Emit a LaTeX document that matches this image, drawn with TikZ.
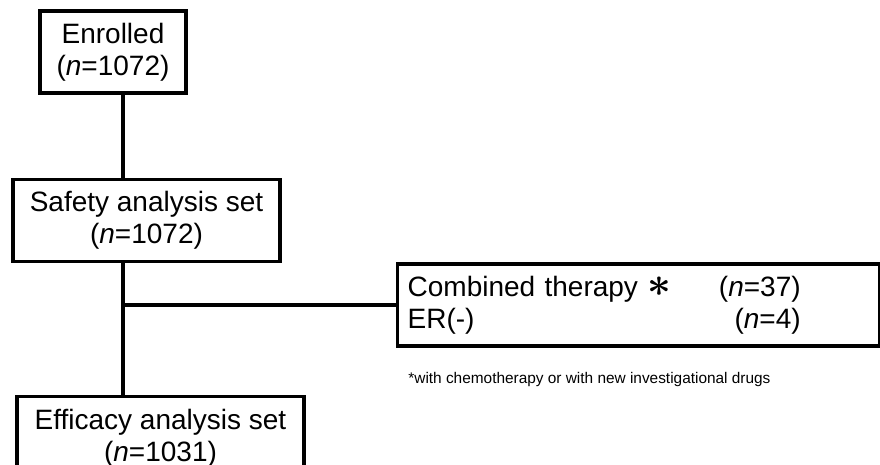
\documentclass[tikz,border=0pt]{standalone}
\usepackage{fontspec}
\setmainfont{Liberation Sans}
\usetikzlibrary{positioning}

\begin{document}
\begin{tikzpicture}[
    x=0.5pt, y=-0.5pt,
    node distance=41.5pt,
    block/.style={draw, line width=1.7pt, minimum height=41pt, inner sep=0pt,
                  align=center, font=\fontsize{14}{16}\selectfont},
    link/.style={line width=1.6pt},
]
    \clip (0,0) rectangle (880,465);

    % Enrolled
    \node[block, minimum width=73pt] (enrolled) at (113,52) {Enrolled\\(\textit{n}=1072)};

    % Safety analysis set
    \node[block, minimum width=133.5pt, below=41.5pt of enrolled, xshift=16.75pt] (safety) {Safety analysis set\\(\textit{n}=1072)};

    % Efficacy analysis set
    \node[block, minimum width=143.5pt, below=66pt of safety, xshift=7pt] (efficacy) {Efficacy analysis set\\(\textit{n}=1031)};

    % Excluded
    \coordinate (branch) at (123,305);
    \node[block, text width=231pt, inner xsep=5pt, align=left, right=136.5pt of branch] (excluded)
        {\makebox[196.5pt][l]{Combined therapy {\fontsize{21}{21}\selectfont\boldmath$\ast$}\hfill(\textit{n}=37)}\\
         \makebox[196.5pt][l]{ER(-)\hfill(\textit{n}=4)}};
    \node[below right=12pt and 6pt of excluded.south west, inner sep=0pt, font=\fontsize{7.7}{9}\selectfont] (note)
        {*with chemotherapy or with new investigational drugs};

    % Lines
    \draw[link] (enrolled.south -| branch) -- (safety.north -| branch);
    \draw[link] (safety.south -| branch) -- (efficacy.north -| branch);
    \draw[link] (branch) -- (branch -| excluded.west);
\end{tikzpicture}
\end{document}
